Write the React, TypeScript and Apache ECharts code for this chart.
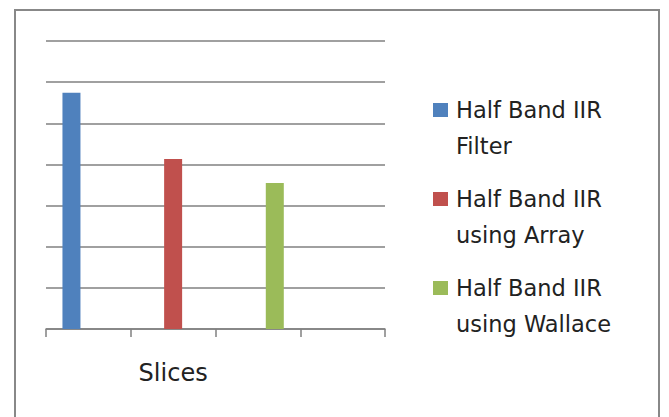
import React, { useEffect, useRef } from "react";
import * as echarts from "echarts";

const categories = ["", "Slices", "", ""];
const seriesNames = [
  "Half Band IIR\nFilter",
  "Half Band IIR\nusing Array",
  "Half Band IIR\nusing Wallace",
];
const seriesValues = [57.4, 41.3, 35.5];
const seriesColors = ["#4F81BD", "#C0504D", "#9BBB59"];
const yMin = 0;
const yMax = 70;
const yInterval = 10;

export default function App() {
  const ref = useRef<HTMLDivElement>(null);
  useEffect(() => {
    if (!ref.current) return;
    const chart = echarts.init(ref.current, null, { renderer: "svg" });
    const series = seriesNames.map((name, i) => ({
      name,
      type: "bar",
      barWidth: 18,
      barGap: "-6%",
      itemStyle: { color: seriesColors[i] },
      data: categories.map((_, j) => (j === i ? seriesValues[i] : "-")),
    }));
    chart.setOption({
      animation: false,
      backgroundColor: "#ffffff",
      textStyle: { fontFamily: "DejaVu Sans" },
      grid: { left: 46, right: 284, top: 41, bottom: 88, containLabel: false },
      xAxis: {
        type: "category",
        data: categories,
        axisLine: { show: true, lineStyle: { color: "#808080", width: 1.5 } },
        axisTick: { show: true, length: 8, lineStyle: { color: "#808080", width: 1.5 } },
        axisLabel: {
          show: true,
          interval: 0,
          margin: 32,
          fontSize: 24,
          color: "#222222",
          fontFamily: "DejaVu Sans",
        },
        splitLine: { show: false },
      },
      yAxis: {
        type: "value",
        min: yMin,
        max: yMax,
        interval: yInterval,
        axisLine: { show: false },
        axisTick: { show: false },
        axisLabel: { show: false },
        splitLine: { show: true, lineStyle: { color: "#808080", width: 1.5 } },
      },
      legend: {
        orient: "vertical",
        left: 433,
        top: 56,
        padding: 0,
        itemWidth: 15,
        itemHeight: 14,
        itemGap: -19,
        icon: "rect",
        data: seriesNames,
        formatter: (name: string) => "\n" + name,
        textStyle: {
          fontFamily: "DejaVu Sans",
          fontSize: 22.5,
          lineHeight: 36,
          color: "#222222",
          padding: [0, 0, 0, 3],
        },
      },
      graphic: [
        {
          type: "rect",
          shape: { x: 15, y: 10, width: 644, height: 430 },
          style: { fill: "none", stroke: "#888888", lineWidth: 2 },
          silent: true,
        },
      ],
      series,
    });
    return () => chart.dispose();
  }, []);
  return (
    <div
      ref={ref}
      style={{ position: "fixed", left: 0, top: 0, width: 669, height: 417 }}
    />
  );
}
